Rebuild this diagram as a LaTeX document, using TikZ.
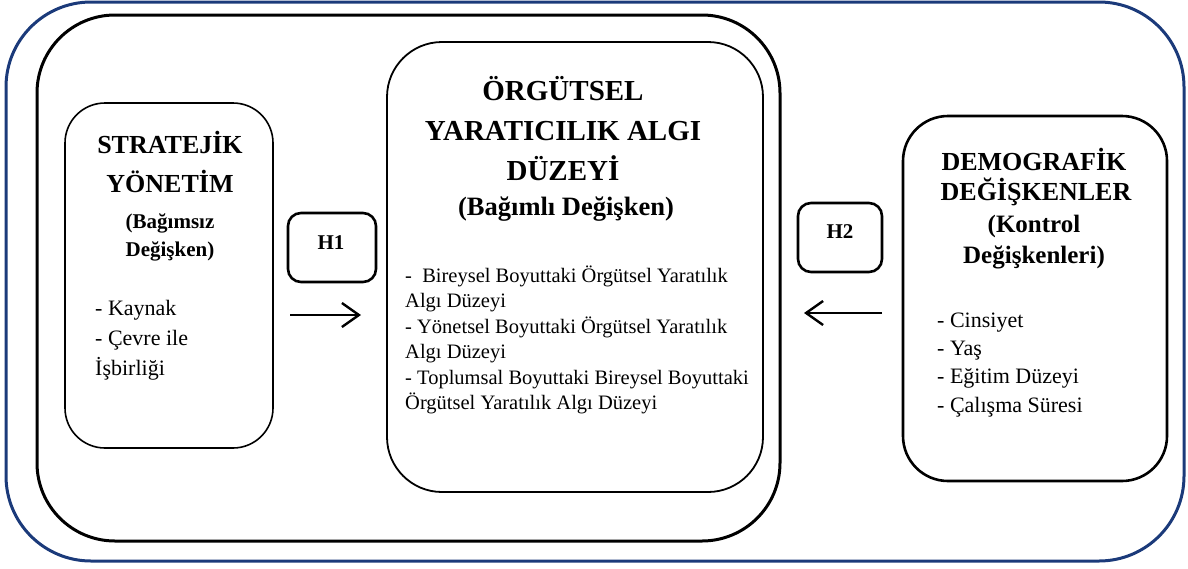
\documentclass[tikz,border=0pt]{standalone}
\usepackage{fontspec}
\setmainfont{Liberation Serif}
\usetikzlibrary{arrows.meta}
\definecolor{navy}{HTML}{1B3A7A}
\begin{document}
\begin{tikzpicture}[x=1pt,y=-1pt,
  frame/.style={draw, rectangle, inner sep=0pt},
  head/.style={anchor=base, inner sep=0pt, font=\fontsize{26}{30}\selectfont\bfseries},
  sub/.style={anchor=base, inner sep=0pt, font=\fontsize{21}{28}\selectfont\bfseries},
  body/.style={anchor=base west, inner sep=0pt, font=\fontsize{22}{26}\selectfont},
  mbody/.style={anchor=base west, inner sep=0pt, font=\fontsize{20.5}{24}\selectfont},
  hbox/.style={frame, line width=2.6pt, rounded corners=13pt, font=\fontsize{21}{24}\selectfont\bfseries},
  arr/.style={line width=2.4pt, -{Straight Barb[length=17pt,width=24pt,line width=2.4pt]}}
]
\useasboundingbox (0,0) rectangle (1188,568);
% outer frames
\draw[navy, line width=3pt, rounded corners=85pt] (6,2) rectangle (1184,561);
\draw[black, line width=3pt, rounded corners=78pt] (37,15) rectangle (780,541);
% boxes
\node[frame, line width=1.6pt, rounded corners=40pt, minimum width=208pt, minimum height=345pt] (L) at (169,275.5) {};
\node[frame, line width=1.8pt, rounded corners=55pt, minimum width=376pt, minimum height=450pt] (M) at (575,267) {};
\node[frame, line width=2.6pt, rounded corners=45pt, minimum width=264pt, minimum height=365pt] (R) at (1035,298.5) {};
\node[hbox, minimum width=88pt, minimum height=69pt] (H1box) at (332,247.5) {};
\node[hbox, minimum width=84pt, minimum height=69pt] (H2box) at (840,237.5) {};
\node[hbox, draw=none, anchor=base] (H1) at (331,249) {H1};
\node[hbox, draw=none, anchor=base] (H2) at (840,238) {H2};
% arrows
\coordinate (a1s) at (290,315);
\coordinate (a1e) at (361,315);
\coordinate (a2s) at (882,313);
\coordinate (a2e) at (804,313);
\draw[arr] (a1s) -- (a1e);
\draw[arr] (a2s) -- (a2e);
% left text
\node[head] (l1) at (170,153) {STRATEJİK};
\node[head] (l2) at (170,192) {YÖNETİM};
\node[sub] (l3) at (170,228) {(Bağımsız};
\node[sub] (l4) at (170,256) {Değişken)};
\node[body] (l5) at (95,315) {- Kaynak};
\node[body] (l6) at (95,345) {- Çevre ile};
\node[body] (l7) at (95,375) {İşbirliği};
% middle text
\node[head, font=\fontsize{29}{32}\selectfont\bfseries] (m1) at (563,100) {ÖRGÜTSEL};
\node[head, font=\fontsize{29}{32}\selectfont\bfseries] (m2) at (563,140) {YARATICILIK ALGI};
\node[head, font=\fontsize{29}{32}\selectfont\bfseries] (m3) at (563,180) {DÜZEYİ};
\node[sub, font=\fontsize{26.5}{28}\selectfont\bfseries] (m4) at (566,215) {(Bağımlı Değişken)};
\node[mbody] (m5) at (405,282) {-\ \ Bireysel Boyuttaki Örgütsel Yaratılık};
\node[mbody] (m6) at (405,307.5) {Algı Düzeyi};
\node[mbody] (m7) at (405,333) {- Yönetsel Boyuttaki Örgütsel Yaratılık};
\node[mbody] (m8) at (405,358.5) {Algı Düzeyi};
\node[mbody] (m9) at (405,384) {- Toplumsal Boyuttaki Bireysel Boyuttaki};
\node[mbody] (m10) at (405,409.5) {Örgütsel Yaratılık Algı Düzeyi};
% right text
\node[head] (r1) at (1034,170) {DEMOGRAFİK};
\node[head] (r2) at (1036,200) {DEĞİŞKENLER};
\node[sub, font=\fontsize{25}{28}\selectfont\bfseries] (r3) at (1034,232) {(Kontrol};
\node[sub, font=\fontsize{25}{28}\selectfont\bfseries] (r4) at (1034,263) {Değişkenleri)};
\node[body] (r5) at (937,327) {- Cinsiyet};
\node[body] (r6) at (937,355) {- Yaş};
\node[body] (r7) at (937,383) {- Eğitim Düzeyi};
\node[body] (r8) at (937,412) {- Çalışma Süresi};
\end{tikzpicture}
\end{document}
